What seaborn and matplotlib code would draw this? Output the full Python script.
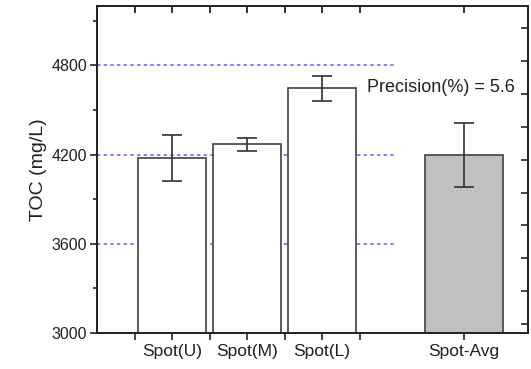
import numpy as np
import pandas as pd
import matplotlib
matplotlib.use("Agg")
import matplotlib.pyplot as plt
from matplotlib import markers
import seaborn as sns

sns.set_theme(style="ticks")
plt.rcParams.update({
    'font.family': ['Liberation Sans', 'DejaVu Sans'],
    'axes.linewidth': 1.4,
    'axes.edgecolor': '#202020',
})

# Data
spots = ["Spot(U)", "Spot(M)", "Spot(L)"]
spot_toc = [4180, 4270, 4645]
spot_err = [155, 45, 85]
avg_label = ["Spot-Avg"]
avg_toc = [4200]
avg_err = [215]
grid_levels = [3600, 4200, 4800]
y_ticks = [3000, 3600, 4200, 4800]
y_top = 5200

EDGE = '#404040'
GRID = '#6a6aff'
TXT = '#202020'

fig = plt.figure(figsize=(5.31, 3.69), dpi=100)
left_box = [97 / 531, 1 - 333 / 369, 300 / 531, 327 / 369]
right_box = [398 / 531, 1 - 333 / 369, 130 / 531, 327 / 369]
ax = fig.add_axes(left_box)
ax2 = fig.add_axes(right_box)

df = pd.DataFrame({'spot': spots, 'toc': spot_toc})
sns.barplot(data=df, x='spot', y='toc', ax=ax, color='white', width=0.9,
            edgecolor=EDGE, linewidth=1.2, errorbar=None, saturation=1)
ax.errorbar(np.arange(len(spots)), spot_toc, yerr=spot_err, fmt='none',
            ecolor='#303030', elinewidth=1.2, capsize=7, capthick=1.2)
for lvl in grid_levels:
    ax.axhline(lvl, color=GRID, linestyle=(0, (2, 2)), linewidth=1.2, zorder=0.5)

df2 = pd.DataFrame({'spot': avg_label, 'toc': avg_toc})
sns.barplot(data=df2, x='spot', y='toc', ax=ax2, color='#c0c0c0', width=0.9,
            edgecolor=EDGE, linewidth=1.2, errorbar=None, saturation=1)
ax2.errorbar([0], avg_toc, yerr=avg_err, fmt='none',
             ecolor='#303030', elinewidth=1.2, capsize=7, capthick=1.2)

minor_x = [-0.5, 0.5, 1.5, 2.5]

# left panel axes
ax.set_xlim(-1, 3)
ax.set_ylim(3000, y_top)
ax.set_yticks(y_ticks)
ax.set_yticks([3300, 3900, 4500, 5100], minor=True)
ax.set_xticks(range(len(spots)))
ax.set_xticks(minor_x, minor=True)
ax.set_xticklabels(spots, fontsize=12.5, color=TXT)
ax.tick_params(axis='y', which='major', direction='out', length=5, width=1.2,
               labelsize=11.5, pad=2, labelcolor=TXT)
ax.tick_params(axis='y', which='minor', direction='out', length=3, width=1.2)
ax.tick_params(axis='x', which='both', direction='out', length=5, width=1.2, pad=3)
ax.set_xlabel('')
ax.set_ylabel('TOC (mg/L)', fontsize=14, labelpad=3, color=TXT)
ax.spines['right'].set_visible(False)

# right panel axes
ax2.set_xlim(-0.76, 0.74)
ax2.set_ylim(3000, y_top)
ax2.set_xticks([0])
ax2.set_xticklabels(avg_label, fontsize=12.5, color=TXT)
ax2.set_xlabel('')
ax2.set_ylabel('')
ax2.spines['left'].set_visible(False)
ax2.yaxis.tick_right()
ax2.set_yticks(np.arange(3061, 5200, 221))
ax2.tick_params(axis='y', which='both', direction='in', length=5, width=1.2,
                labelright=False, right=True, left=False)
ax2.tick_params(axis='x', which='both', direction='out', length=5, width=1.2, pad=3)


def top_ticks(a, xs):
    # inward tick marks on the top edge, drawn as TICKDOWN markers
    a.plot(xs, [y_top] * len(xs), linestyle='none', marker=markers.TICKDOWN,
           markersize=5, markeredgewidth=1.3, color='#202020',
           clip_on=False, zorder=6)
    a.set_ylim(3000, y_top)


top_ticks(ax, list(range(len(spots))) + minor_x)
top_ticks(ax2, [0])

fig.text(367 / 531, 1 - 88 / 369, 'Precision(%) = 5.6', fontsize=13,
         va='center', ha='left', color=TXT)

fig.savefig('out.png', dpi=100)
